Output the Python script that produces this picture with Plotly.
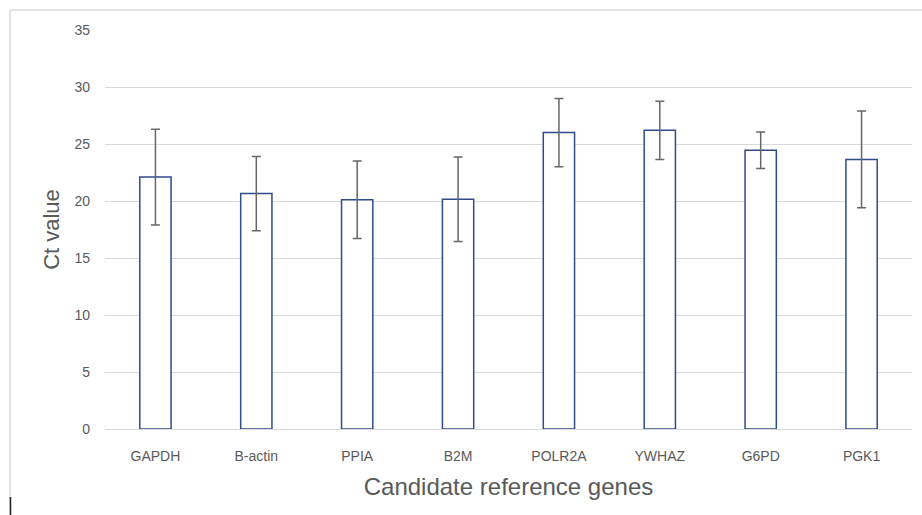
import plotly.graph_objects as go

genes = ["GAPDH", "B-actin", "PPIA", "B2M", "POLR2A", "YWHAZ", "G6PD", "PGK1"]
ct_mean = [22.1, 20.65, 20.1, 20.15, 26.0, 26.2, 24.45, 23.65]
ct_err = [4.2, 3.25, 3.4, 3.7, 3.0, 2.55, 1.6, 4.25]
y_ticks = [0, 5, 10, 15, 20, 25, 30, 35]

W, H = 922, 515
L, R, T, B = 105, 10, 30, 86
pw = W - L - R
ph = H - T - B

def px2x(px):
    return (px - L) / pw

def py2y(py):
    return (H - B - py) / ph

fig = go.Figure()
fig.add_trace(go.Bar(
    x=genes, y=ct_mean,
    marker=dict(color="white", line=dict(color="#2F4B8C", width=1.5)),
    error_y=dict(type="data", array=ct_err, visible=True,
                 color="#666666", thickness=1.5, width=4.5),
    width=0.31,
))

font_family = "Liberation Sans, Arial, sans-serif"
fig.update_layout(
    width=W, height=H,
    margin=dict(l=L, r=R, t=T, b=B),
    plot_bgcolor="white", paper_bgcolor="white",
    showlegend=False,
    font=dict(family=font_family, color="#595959"),
    xaxis=dict(
        showgrid=False, showline=True, linecolor="#D9D9D9", linewidth=1,
        ticks="", tickfont=dict(size=14, color="#595959"),
        ticklabelstandoff=14,
        title=dict(text="Candidate reference genes", font=dict(size=24, color="#595959"), standoff=15),
        range=[-0.5, len(genes) - 0.5],
    ),
    yaxis=dict(
        range=[0, 35], tickvals=y_ticks, ticktext=[str(v) for v in y_ticks],
        showgrid=True, gridcolor="#D9D9D9", gridwidth=1,
        zeroline=False, showline=False, ticks="",
        tickfont=dict(size=14, color="#595959"),
        ticklabelstandoff=14,
        title=dict(text="Ct value", font=dict(size=22, color="#595959"), standoff=8),
    ),
    shapes=[
        dict(type="line", xref="paper", yref="paper",
             x0=px2x(10), x1=px2x(10), y0=py2y(10), y1=py2y(515),
             line=dict(color="#D9D9D9", width=1.5)),
        dict(type="line", xref="paper", yref="paper",
             x0=px2x(10), x1=px2x(922), y0=py2y(10), y1=py2y(10),
             line=dict(color="#D9D9D9", width=1.5)),
        dict(type="line", xref="paper", yref="paper",
             x0=px2x(10.5), x1=px2x(10.5), y0=py2y(497), y1=py2y(515),
             line=dict(color="#222222", width=1.5)),
    ],
)

fig.write_html(
    "out.html",
    config={"displayModeBar": False},
    post_script="document.body.style.margin='0';document.body.style.overflow='hidden';",
)
